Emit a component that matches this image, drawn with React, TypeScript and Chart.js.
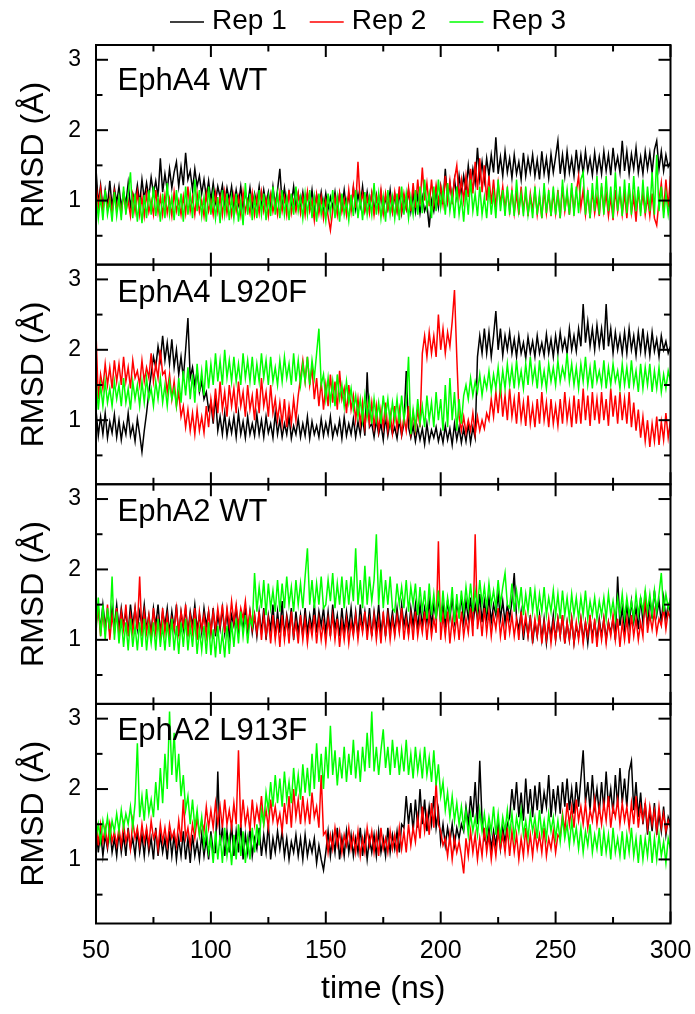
import React, { useEffect, useRef } from "react";
import { Chart, registerables } from "chart.js";

Chart.register(...registerables);

const FONT = "'Liberation Sans', Arial, Helvetica, sans-serif";

// ---- axis / category data ----
const TIME_START = 50; // ns, first sample
const TIME_STEP = 1; // ns between samples
const X_MIN = 50;
const X_MAX = 300;
const X_TICKS = [50, 100, 150, 200, 250, 300];
const X_MINOR = [75, 125, 175, 225, 275];
const Y_MIN = 0.09;
const Y_MAX = 3.21;
const Y_TICKS = [1, 2, 3];
const Y_MINOR = [0.5, 1.5, 2.5];
const PANELS = ["EphA4 WT", "EphA4 L920F", "EphA2 WT", "EphA2 L913F"];
const REPS = ["Rep 1", "Rep 2", "Rep 3"];
const COLORS = ["#000000", "#ff0000", "#00ff00"];

// ---- series values (RMSD, Å), one value per ns from 50 to 300 ns ----
const A4WT_REP1 = [
  1.45, 0.95, 1.22, 0.88, 1.15, 0.92, 1.28, 0.9, 1.18, 0.97,
  1.2, 0.9, 1.12, 0.95, 1.25, 0.92, 1.1, 1.0, 1.22, 0.95,
  1.3, 1.02, 1.25, 1.05, 1.33, 1.1, 1.28, 1.05, 1.6, 1.12,
  1.38, 1.15, 1.45, 1.18, 1.4, 1.55, 1.2, 1.48, 1.22, 1.68,
  1.3, 1.42, 1.15, 1.45, 1.2, 1.35, 1.1, 1.3, 1.05, 1.28,
  1.0, 1.25, 0.98, 1.2, 1.05, 1.22, 0.95, 1.18, 1.0, 1.2,
  0.92, 1.15, 0.95, 1.2, 0.9, 1.12, 0.95, 1.18, 0.9, 1.1,
  0.95, 1.2, 0.9, 1.15, 0.95, 1.12, 0.9, 1.2, 0.93, 1.15,
  1.45, 0.95, 1.18, 0.9, 1.12, 0.95, 1.2, 0.9, 1.1, 0.92,
  1.12, 0.88, 1.1, 0.9, 1.15, 0.86, 1.08, 0.9, 1.12, 0.87,
  1.1, 0.88, 1.05, 0.9, 1.12, 0.86, 1.1, 0.9, 1.15, 0.88,
  1.08, 0.9, 1.18, 0.88, 1.1, 0.92, 1.2, 0.88, 1.12, 0.9,
  1.1, 0.85, 1.08, 0.88, 1.12, 0.84, 1.05, 0.88, 1.15, 0.85,
  1.08, 0.86, 1.12, 0.82, 1.05, 0.88, 1.15, 0.85, 1.1, 0.84,
  1.08, 0.82, 1.05, 0.85, 0.95, 0.62, 1.0, 0.85, 1.1, 0.9,
  1.2, 0.95, 1.45, 1.0, 1.25, 1.02, 1.3, 1.05, 1.35, 1.08,
  1.35, 1.15, 1.5, 1.2, 1.45, 1.25, 1.75, 1.3, 1.55, 1.28,
  1.6, 1.35, 1.65, 1.4, 1.9, 1.38, 1.62, 1.35, 1.7, 1.4,
  1.6, 1.32, 1.65, 1.38, 1.55, 1.3, 1.68, 1.35, 1.6, 1.4,
  1.65, 1.35, 1.58, 1.3, 1.7, 1.38, 1.6, 1.32, 1.66, 1.4,
  1.62, 1.85, 1.38, 1.65, 1.35, 1.7, 1.4, 1.6, 1.35, 1.72,
  1.4, 1.65, 1.38, 1.7, 1.42, 1.6, 1.36, 1.68, 1.4, 1.62,
  1.38, 1.7, 1.42, 1.65, 1.36, 1.75, 1.45, 1.62, 1.4, 1.85,
  1.42, 1.7, 1.38, 1.66, 1.45, 1.75, 1.4, 1.62, 1.38, 1.7,
  1.45, 1.68, 1.4, 1.72, 1.85, 1.45, 1.7, 1.42, 1.65, 1.48,
  1.55,
];
const A4WT_REP2 = [
  1.25, 0.9, 1.18, 0.85, 1.1, 0.88, 1.05, 0.82, 1.12, 0.86,
  1.02, 0.8, 1.1, 0.85, 1.0, 0.78, 1.08, 0.84, 1.12, 0.8,
  1.05, 0.78, 1.1, 0.84, 1.0, 0.8, 1.15, 0.83, 1.05, 0.8,
  1.08, 0.82, 1.02, 0.78, 1.12, 0.85, 1.0, 0.8, 1.06, 0.82,
  1.2, 0.85, 1.05, 0.8, 1.1, 0.84, 1.0, 0.78, 1.1, 0.85,
  1.0, 0.8, 1.1, 0.84, 1.05, 0.8, 1.12, 0.82, 1.02, 0.8,
  1.08, 0.85, 1.05, 0.8, 1.12, 0.84, 1.0, 0.82, 1.1, 0.8,
  1.05, 0.82, 1.12, 0.85, 1.02, 0.78, 1.08, 0.84, 1.0, 0.8,
  1.1, 0.85, 1.05, 0.8, 1.15, 0.82, 1.0, 0.85, 1.1, 0.82,
  1.05, 0.8, 1.12, 0.85, 1.0, 0.72, 1.08, 0.82, 1.05, 0.75,
  1.0, 0.78, 0.58, 0.85, 1.05, 0.8, 1.1, 0.84, 1.02, 0.8,
  1.15, 0.85, 1.2, 0.9, 1.55, 0.95, 1.1, 0.85, 1.05, 0.82,
  1.1, 0.8, 1.05, 0.85, 1.15, 0.82, 1.1, 0.88, 1.05, 0.84,
  1.12, 0.86, 1.2, 0.85, 1.1, 0.9, 1.18, 0.85, 1.25, 0.9,
  1.3, 0.95, 1.47, 1.0, 1.25, 0.92, 1.3, 0.95, 1.22, 0.98,
  1.2, 0.95, 1.35, 1.0, 1.28, 0.95, 1.3, 1.5, 1.05, 1.3,
  1.0, 1.35, 1.05, 1.45, 1.1, 1.55, 1.15, 1.6, 1.12, 1.5,
  1.0, 1.35, 0.95, 1.3, 0.9, 1.25, 0.95, 1.2, 0.88, 1.15,
  0.85, 1.15, 0.82, 1.1, 0.8, 1.2, 0.85, 1.12, 0.78, 1.1,
  0.85, 1.15, 0.8, 1.05, 0.75, 1.15, 0.82, 1.1, 0.78, 1.12,
  0.82, 1.15, 0.75, 1.2, 0.85, 1.1, 0.8, 1.18, 0.85, 1.12,
  1.35, 0.9, 1.15, 0.8, 1.1, 0.75, 1.15, 0.82, 1.05, 0.78,
  1.2, 0.85, 1.1, 0.78, 1.05, 0.72, 1.15, 0.85, 1.12, 0.8,
  1.1, 0.75, 1.2, 0.82, 1.05, 0.7, 1.15, 0.85, 1.1, 0.8,
  1.05, 0.78, 1.1, 0.75, 0.65, 1.0, 1.25, 0.85, 1.3, 0.9,
  1.35,
];
const A4WT_REP3 = [
  1.1, 0.75, 1.05, 0.72, 1.15, 0.8, 1.0, 0.7, 1.12, 0.78,
  1.05, 0.72, 1.2, 0.8, 1.1, 1.4, 0.75, 1.1, 0.7, 1.05,
  0.68, 1.08, 0.75, 1.15, 0.8, 1.2, 0.78, 1.05, 0.7, 1.1,
  0.75, 1.25, 0.8, 1.05, 0.72, 1.15, 0.78, 1.1, 0.7, 1.2,
  0.8, 1.1, 0.75, 1.3, 0.85, 1.15, 0.78, 1.05, 0.7, 1.2,
  0.8, 1.1, 0.75, 1.05, 0.68, 1.15, 0.8, 1.1, 0.72, 1.05,
  0.75, 1.1, 0.7, 1.0, 0.65, 1.25, 0.8, 1.1, 0.72, 1.05,
  0.75, 1.15, 0.8, 1.1, 0.72, 1.05, 0.78, 1.2, 0.8, 1.1,
  0.75, 1.15, 0.8, 1.05, 0.72, 1.1, 0.8, 1.2, 0.85, 1.05,
  0.75, 1.1, 0.8, 1.15, 0.75, 1.05, 0.7, 1.1, 0.8, 1.0,
  0.72, 1.1, 0.8, 1.15, 0.75, 1.05, 0.7, 1.1, 0.8, 1.0,
  0.72, 1.08, 0.78, 1.15, 0.75, 1.05, 0.72, 1.12, 0.8, 1.05,
  0.8, 1.25, 0.8, 1.1, 0.75, 1.05, 0.7, 1.15, 0.8, 1.05,
  0.75, 1.1, 0.72, 1.2, 0.8, 1.1, 0.75, 1.05, 0.8, 1.15,
  0.8, 1.2, 0.82, 1.3, 0.9, 1.1, 0.75, 1.2, 0.85, 1.3,
  0.9, 1.15, 0.8, 1.25, 0.85, 1.1, 0.75, 1.2, 0.8, 1.05,
  0.7, 1.15, 0.8, 1.3, 0.85, 1.1, 0.78, 1.2, 0.8, 1.05,
  0.75, 1.2, 0.8, 1.1, 0.75, 1.3, 0.85, 1.15, 0.78, 1.2,
  0.8, 1.15, 0.78, 1.3, 0.85, 1.1, 0.78, 1.2, 0.8, 1.05,
  0.75, 1.2, 0.8, 1.1, 0.75, 1.25, 0.82, 1.15, 0.78, 1.2,
  0.8, 1.1, 0.75, 1.3, 0.85, 1.15, 0.8, 1.25, 0.78, 1.2,
  0.82, 1.3, 1.4, 0.8, 1.15, 0.75, 1.25, 0.85, 1.35, 0.8,
  1.25, 0.8, 1.35, 0.85, 1.2, 0.75, 1.4, 0.85, 1.2, 0.78,
  1.3, 0.82, 1.25, 0.8, 1.35, 0.85, 1.2, 0.78, 1.3, 0.82,
  1.2, 0.85, 1.4, 0.8, 1.65, 0.85, 1.2, 0.75, 1.1, 0.8,
  1.05,
];

const A4L920F_REP1 = [
  1.15, 0.78, 1.05, 0.8, 1.1, 0.75, 0.98, 0.82, 1.08, 0.76,
  1.0, 0.72, 0.95, 0.8, 1.1, 0.78, 0.92, 0.7, 1.02, 0.8,
  0.55, 0.85, 1.1, 1.4, 1.65, 1.9, 1.75, 2.05, 1.85, 2.2,
  1.85, 2.1, 1.8, 2.15, 1.75, 2.0, 1.65, 1.9, 1.6, 2.0,
  2.45, 1.6, 1.75, 1.5, 1.7, 1.4, 1.55, 1.3, 1.4, 1.15,
  1.25, 0.95, 1.35, 0.85, 1.05, 0.8, 1.1, 0.78, 1.0, 0.82,
  1.05, 0.76, 1.1, 0.8, 0.98, 0.75, 1.05, 0.8, 0.95, 0.78,
  1.08, 0.8, 1.0, 0.76, 1.05, 0.82, 0.95, 0.75, 1.1, 0.8,
  1.0, 0.76, 0.95, 0.8, 1.05, 0.74, 0.92, 0.8, 1.02, 0.76,
  0.95, 0.78, 1.05, 0.74, 0.98, 0.8, 0.92, 0.76, 1.02, 0.78,
  0.96, 0.8, 1.05, 0.76, 0.92, 0.8, 1.0, 0.74, 1.04, 0.78,
  0.95, 0.8, 1.02, 0.76, 0.98, 0.8, 1.05, 0.78, 1.68, 0.9,
  0.95, 0.76, 1.0, 0.8, 0.95, 0.72, 1.05, 0.78, 0.98, 0.8,
  0.9, 0.74, 1.0, 0.78, 0.95, 1.7, 0.9, 0.75, 0.92, 0.7,
  0.9, 0.72, 0.88, 0.66, 0.95, 0.7, 0.86, 0.75, 0.9, 0.7,
  0.85, 0.68, 0.92, 0.72, 0.88, 0.65, 0.95, 0.72, 0.9, 0.68,
  0.88, 0.7, 0.95, 0.68, 0.9, 0.75, 1.9, 2.2, 1.95, 2.3,
  1.95, 2.25, 1.9, 2.2, 2.55, 2.0, 2.3, 1.92, 2.2, 2.0,
  2.25, 1.95, 2.15, 1.9, 2.2, 1.95, 2.1, 1.88, 2.18, 1.95,
  2.12, 1.9, 2.2, 1.95, 2.1, 1.92, 2.22, 1.95, 2.15, 1.9,
  2.2, 1.95, 2.25, 2.0, 2.15, 1.95, 2.3, 2.0, 2.2, 1.98,
  2.3, 2.05, 2.65, 2.1, 2.4, 2.05, 2.3, 2.0, 2.35, 2.05,
  2.3, 2.0, 2.65, 2.05, 2.3, 1.95, 2.25, 2.0, 2.2, 1.95,
  2.25, 1.95, 2.3, 2.0, 2.2, 1.92, 2.25, 1.98, 2.3, 1.95,
  2.2, 1.92, 2.25, 1.98, 2.15, 1.9, 2.2, 2.0, 2.12, 1.95,
  2.05,
];
const A4L920F_REP2 = [
  2.25, 1.3, 1.65, 1.45, 1.8, 1.5, 1.75, 1.45, 1.85, 1.55,
  1.8, 1.5, 1.9, 1.55, 1.75, 1.45, 1.85, 1.6, 1.7, 1.5,
  1.85, 1.55, 1.75, 1.6, 1.95, 1.55, 1.8, 1.6, 2.0, 1.65,
  1.7, 1.4, 1.65, 1.3, 1.55, 1.2, 1.4, 1.05, 1.2, 0.9,
  1.15, 0.85, 1.1, 0.8, 1.15, 0.85, 1.05, 0.82, 1.2, 0.9,
  1.3, 1.05, 1.45, 1.1, 1.55, 1.15, 1.4, 1.05, 1.5, 1.2,
  1.45, 1.1, 1.55, 1.2, 1.4, 1.05, 1.5, 1.15, 1.35, 1.0,
  1.45, 1.1, 1.6, 1.2, 1.4, 1.05, 1.5, 1.1, 1.3, 1.0,
  1.25, 0.95, 1.3, 0.9, 1.2, 0.95, 1.3, 1.0, 1.35, 1.6,
  1.85, 1.55, 1.9, 1.5, 1.75, 1.3, 1.6, 1.2, 1.55, 1.15,
  1.5, 1.2, 1.65, 1.25, 1.55, 1.15, 1.7, 1.3, 1.45, 1.1,
  1.5, 1.15, 1.35, 1.0, 1.3, 0.95, 1.25, 0.9, 1.2, 0.95,
  1.25, 0.9, 1.2, 0.85, 1.15, 0.9, 1.25, 0.85, 1.1, 0.82,
  1.2, 0.88, 1.15, 0.8, 1.05, 0.85, 1.2, 0.82, 1.1, 0.85,
  1.15, 0.9, 1.95, 2.2, 1.9, 2.25, 1.95, 2.2, 1.9, 2.5,
  2.0, 2.3, 1.95, 2.25, 2.05, 2.4, 2.85, 1.9, 1.05, 0.85,
  1.05, 0.82, 1.0, 0.85, 1.1, 0.8, 1.05, 0.85, 1.0, 0.88,
  1.1, 1.0, 1.3, 1.05, 1.4, 1.1, 1.5, 1.05, 1.35, 1.0,
  1.45, 1.05, 1.3, 0.95, 1.4, 1.0, 1.25, 0.92, 1.35, 0.95,
  1.2, 0.9, 1.3, 0.95, 1.4, 1.0, 1.25, 0.9, 1.3, 0.95,
  1.2, 0.92, 1.3, 0.95, 1.4, 1.0, 1.25, 0.9, 1.35, 0.95,
  1.3, 0.95, 1.45, 1.0, 1.35, 0.92, 1.4, 1.0, 1.3, 0.95,
  1.4, 1.0, 1.3, 0.92, 1.45, 1.05, 1.35, 0.95, 1.4, 1.0,
  1.3, 0.95, 1.4, 0.9, 1.25, 0.85, 1.15, 0.75, 1.05, 0.7,
  1.0, 0.62, 0.95, 0.7, 1.05, 0.65, 0.98, 0.72, 1.1, 0.75,
  1.0,
];
const A4L920F_REP3 = [
  1.6, 1.15, 1.5, 1.2, 1.55, 1.25, 1.45, 1.2, 1.55, 1.3,
  1.5, 1.2, 1.6, 1.25, 1.45, 1.15, 1.55, 1.3, 1.5, 1.2,
  1.55, 1.25, 1.6, 1.3, 1.45, 1.2, 1.55, 1.3, 1.6, 1.25,
  1.5, 1.2, 1.55, 1.3, 1.45, 1.2, 1.6, 1.25, 1.7, 1.35,
  1.75, 1.3, 1.65, 1.25, 1.8, 1.4, 1.7, 1.35, 1.85, 1.45,
  1.8, 1.5, 1.95, 1.55, 1.85, 1.5, 2.0, 1.6, 1.85, 1.55,
  1.9, 1.55, 1.8, 1.5, 1.95, 1.6, 1.85, 1.55, 1.9, 1.5,
  1.8, 1.55, 1.95, 1.6, 1.85, 1.5, 1.9, 1.55, 1.75, 1.5,
  1.85, 1.55, 1.9, 1.6, 1.8, 1.5, 1.95, 1.55, 1.85, 1.5,
  1.8, 1.55, 1.9, 1.5, 1.85, 1.6, 1.95, 2.3, 1.5, 1.65,
  1.3, 1.6, 1.25, 1.55, 1.2, 1.65, 1.3, 1.5, 1.2, 1.55,
  1.25, 1.45, 1.15, 1.35, 1.05, 1.3, 1.0, 1.35, 1.05, 1.3,
  0.95, 1.3, 1.0, 1.25, 0.95, 1.35, 1.05, 1.3, 0.95, 1.25,
  1.0, 1.3, 0.95, 1.35, 1.0, 1.25, 1.9, 0.8, 1.15, 0.9,
  1.3, 0.95, 1.2, 0.9, 1.35, 1.0, 1.25, 0.9, 1.4, 1.0,
  1.3, 0.85, 1.5, 0.9, 1.6, 1.0, 1.4, 0.85, 1.3, 0.95,
  1.35, 1.5, 1.3, 1.6, 1.35, 1.55, 1.4, 1.65, 1.35, 1.6,
  1.45, 1.7, 1.4, 1.65, 1.45, 1.75, 1.4, 1.7, 1.45, 1.8,
  1.5, 1.75, 1.45, 1.85, 1.5, 1.7, 1.45, 1.8, 1.5, 1.9,
  1.55, 1.75, 1.45, 1.85, 1.5, 1.7, 1.45, 1.8, 1.55, 1.75,
  1.5, 1.85, 1.55, 1.75, 1.6, 1.95, 1.55, 1.8, 1.5, 1.75,
  1.45, 1.8, 1.55, 1.9, 1.5, 1.75, 1.45, 1.85, 1.55, 1.7,
  1.5, 1.85, 1.45, 1.75, 1.5, 1.8, 1.55, 1.7, 1.45, 1.8,
  1.5, 1.75, 1.45, 1.85, 1.5, 1.7, 1.4, 1.8, 1.45, 1.75,
  1.5, 1.8, 1.4, 1.7, 1.45, 1.75, 1.4, 1.65, 1.45, 1.7,
  1.55,
];

const A2WT_REP1 = [
  1.25, 1.45, 1.15, 1.5, 1.2, 1.4, 1.1, 1.45, 1.2, 1.5,
  1.15, 1.45, 1.2, 1.4, 1.1, 1.5, 1.2, 1.45, 1.15, 1.4,
  1.2, 1.5, 1.15, 1.35, 1.1, 1.45, 1.2, 1.5, 1.1, 1.4,
  1.2, 1.45, 1.1, 1.4, 1.15, 1.5, 1.05, 1.4, 1.15, 1.45,
  1.1, 1.4, 1.2, 1.5, 1.15, 1.35, 1.1, 1.45, 1.2, 1.4,
  1.1, 1.45, 1.05, 1.35, 1.15, 1.45, 1.1, 1.4, 1.05, 1.35,
  1.2, 1.45, 1.1, 1.35, 1.15, 1.45, 1.05, 1.4, 1.1, 1.35,
  1.05, 1.4, 1.1, 1.45, 1.0, 1.35, 1.15, 1.5, 1.05, 1.4,
  1.1, 1.55, 1.05, 1.35, 1.15, 1.45, 1.0, 1.4, 1.1, 1.35,
  1.05, 1.45, 1.1, 1.35, 1.15, 1.5, 1.1, 1.4, 1.2, 1.45,
  1.1, 1.4, 1.05, 1.5, 1.15, 1.35, 1.05, 1.45, 1.1, 1.4,
  1.15, 1.45, 1.1, 1.4, 1.05, 1.5, 1.15, 1.4, 1.1, 1.45,
  1.05, 1.4, 1.15, 1.5, 1.1, 1.35, 1.05, 1.45, 1.15, 1.4,
  1.1, 1.45, 1.15, 1.5, 1.2, 1.4, 1.1, 1.45, 1.2, 1.5,
  1.15, 1.5, 1.2, 1.45, 1.25, 1.55, 1.2, 1.5, 1.3, 1.6,
  1.25, 1.5, 1.2, 1.55, 1.3, 1.6, 1.25, 1.5, 1.35, 1.6,
  1.25, 1.55, 1.3, 1.6, 1.2, 1.5, 1.3, 1.65, 1.25, 1.55,
  1.3, 1.6, 1.25, 1.5, 1.35, 1.65, 1.3, 1.55, 1.25, 1.5,
  1.3, 1.55, 1.95, 1.3, 1.15, 1.4, 1.0, 1.3, 1.05, 1.35,
  0.95, 1.25, 1.05, 1.35, 1.0, 1.3, 0.95, 1.25, 1.05, 1.35,
  1.0, 1.3, 1.05, 1.35, 0.95, 1.25, 1.0, 1.3, 0.95, 1.2,
  1.05, 1.3, 1.0, 1.25, 0.95, 1.3, 1.05, 1.25, 1.0, 1.3,
  1.05, 1.3, 1.0, 1.25, 1.1, 1.3, 1.0, 1.9, 1.2, 1.45,
  1.15, 1.5, 1.2, 1.55, 1.25, 1.45, 1.15, 1.6, 1.25, 1.5,
  1.2, 1.6, 1.3, 1.7, 1.35, 1.55, 1.25, 1.6, 1.3, 1.5,
  1.4,
];
const A2WT_REP2 = [
  1.2, 1.45, 1.05, 1.4, 1.1, 1.5, 1.0, 1.35, 1.1, 1.45,
  1.05, 1.4, 1.15, 1.5, 1.05, 1.35, 1.1, 1.45, 1.15, 1.9,
  1.05, 1.4, 1.1, 1.35, 1.0, 1.45, 1.1, 1.3, 1.05, 1.45,
  1.1, 1.35, 1.05, 1.3, 1.15, 1.45, 1.1, 1.4, 1.2, 1.5,
  1.05, 1.35, 1.1, 1.45, 1.0, 1.4, 1.15, 1.35, 1.05, 1.4,
  1.1, 1.4, 1.15, 1.45, 1.2, 1.5, 1.1, 1.45, 1.2, 1.55,
  1.25, 1.5, 1.2, 1.45, 1.3, 1.55, 1.2, 1.4, 1.15, 1.35,
  1.1, 1.4, 1.0, 1.35, 1.05, 1.3, 0.95, 1.35, 1.0, 1.3,
  0.9, 1.35, 1.0, 1.3, 0.95, 1.4, 1.05, 1.25, 0.95, 1.35,
  1.0, 1.3, 0.95, 1.25, 1.05, 1.35, 0.95, 1.3, 1.0, 1.25,
  0.95, 1.3, 1.05, 1.35, 1.0, 1.3, 0.9, 1.25, 1.0, 1.3,
  0.95, 1.25, 1.05, 1.35, 1.0, 1.3, 1.1, 1.4, 1.0, 1.3,
  1.05, 1.35, 1.0, 1.3, 0.95, 1.4, 1.05, 1.35, 1.0, 1.3,
  1.05, 1.35, 1.1, 1.45, 1.0, 1.3, 1.05, 1.35, 1.0, 1.4,
  1.05, 1.3, 1.1, 1.4, 1.0, 1.35, 1.05, 1.3, 1.1, 2.4,
  1.0, 1.35, 1.05, 1.4, 0.95, 1.3, 1.05, 1.35, 1.0, 1.4,
  1.05, 1.3, 1.1, 1.45, 1.05, 2.5, 1.15, 1.4, 1.05, 1.45,
  1.1, 1.4, 1.05, 1.35, 1.15, 1.45, 1.05, 1.3, 1.0, 1.4,
  1.1, 1.35, 1.05, 1.3, 1.0, 1.4, 1.1, 1.35, 1.05, 1.3,
  1.0, 1.3, 1.05, 1.35, 0.95, 1.25, 1.0, 1.3, 0.95, 1.25,
  1.0, 1.3, 1.05, 1.35, 0.95, 1.25, 1.0, 1.3, 0.95, 1.25,
  1.0, 1.3, 0.95, 1.25, 1.05, 1.35, 0.95, 1.3, 0.9, 1.25,
  1.0, 1.3, 0.95, 1.25, 1.05, 1.35, 1.0, 1.3, 0.9, 1.25,
  1.0, 1.3, 0.95, 1.35, 1.05, 1.3, 1.0, 1.25, 1.05, 1.7,
  1.1, 1.35, 1.15, 1.4, 1.1, 1.3, 1.2, 1.45, 1.15, 1.4,
  1.3,
];
const A2WT_REP3 = [
  1.1, 1.6, 1.05, 1.5, 1.0, 1.45, 1.15, 1.9, 1.0, 1.4,
  0.95, 1.3, 0.9, 1.25, 0.85, 1.3, 0.9, 1.2, 0.85, 1.25,
  0.9, 1.3, 0.85, 1.2, 0.95, 1.25, 0.85, 1.3, 0.9, 1.2,
  0.85, 1.25, 0.9, 1.3, 0.85, 1.2, 0.8, 1.25, 0.9, 1.3,
  0.85, 1.2, 0.9, 1.3, 0.8, 1.15, 0.85, 1.2, 0.8, 1.25,
  0.78, 1.15, 0.75, 1.2, 0.8, 1.1, 0.75, 1.2, 0.8, 1.25,
  0.9, 1.3, 0.95, 1.4, 1.05, 1.35, 0.95, 1.3, 1.2, 1.95,
  1.4, 1.75, 1.45, 1.85, 1.35, 1.8, 1.45, 1.7, 1.4, 1.85,
  1.4, 1.8, 1.45, 1.9, 1.5, 1.75, 1.4, 1.85, 1.5, 1.8,
  1.45, 1.9, 2.3, 1.5, 1.85, 1.45, 1.8, 1.5, 1.9, 1.45,
  1.5, 1.85, 1.55, 1.95, 1.45, 1.8, 1.5, 1.9, 1.45, 1.85,
  1.5, 1.9, 1.55, 2.3, 1.5, 1.85, 1.45, 2.05, 1.5, 1.9,
  1.55, 1.85, 2.5, 1.5, 2.0, 1.45, 1.85, 1.5, 1.9, 1.45,
  1.4, 1.8, 1.5, 1.75, 1.45, 1.85, 1.4, 1.75, 1.5, 1.8,
  1.35, 1.75, 1.4, 1.7, 1.3, 1.8, 1.35, 1.65, 1.3, 1.7,
  1.25, 1.7, 1.3, 1.6, 1.35, 1.75, 1.25, 1.65, 1.3, 1.7,
  1.4, 1.75, 1.45, 1.8, 1.4, 1.7, 1.45, 1.85, 1.5, 1.75,
  1.45, 1.8, 1.5, 1.7, 1.45, 1.85, 1.5, 1.75, 1.95, 1.5,
  1.45, 1.8, 1.4, 1.7, 1.45, 1.75, 1.35, 1.65, 1.4, 1.75,
  1.4, 1.7, 1.35, 1.65, 1.4, 1.75, 1.35, 1.6, 1.4, 1.7,
  1.35, 1.65, 1.3, 1.7, 1.35, 1.6, 1.3, 1.65, 1.35, 1.6,
  1.3, 1.6, 1.35, 1.7, 1.3, 1.55, 1.35, 1.6, 1.3, 1.55,
  1.35, 1.6, 1.3, 1.65, 1.35, 1.55, 1.3, 1.6, 1.35, 1.65,
  1.3, 1.6, 1.35, 1.55, 1.3, 1.65, 1.35, 1.6, 1.4, 1.7,
  1.4, 1.65, 1.35, 1.7, 1.4, 1.65, 1.95, 1.4, 1.65, 1.45,
  1.6,
];

const A2L913F_REP1 = [
  1.5, 1.1, 1.4, 1.05, 1.35, 1.15, 1.45, 1.1, 1.3, 1.05,
  1.4, 1.1, 1.35, 1.05, 1.45, 1.15, 1.3, 1.05, 1.4, 1.1,
  1.35, 1.05, 1.4, 1.1, 1.3, 1.0, 1.45, 1.05, 1.35, 1.1,
  1.3, 1.0, 1.4, 1.05, 1.35, 1.0, 1.3, 1.05, 1.4, 1.0,
  1.3, 0.95, 1.35, 1.05, 1.25, 1.0, 1.35, 1.05, 1.3, 1.0,
  1.4, 1.1, 1.1, 2.25, 1.2, 1.45, 1.05, 1.4, 1.1, 1.5,
  1.05, 1.4, 1.1, 1.5, 1.0, 1.35, 1.1, 1.45, 1.05, 1.3,
  1.15, 1.45, 1.05, 1.35, 1.1, 1.5, 1.0, 1.3, 1.1, 1.4,
  1.15, 1.4, 1.05, 1.3, 1.0, 1.25, 1.1, 1.35, 1.05, 1.3,
  1.0, 1.35, 1.05, 1.25, 1.1, 1.3, 0.95, 1.2, 1.0, 0.85,
  1.1, 1.4, 1.05, 1.35, 1.1, 1.45, 1.0, 1.3, 1.05, 1.4,
  1.1, 1.35, 1.05, 1.3, 1.1, 1.45, 1.05, 1.35, 1.0, 1.3,
  1.1, 1.35, 1.05, 1.4, 1.1, 1.3, 1.05, 1.45, 1.1, 1.35,
  1.15, 1.4, 1.1, 1.5, 1.45, 1.9, 1.5, 1.8, 1.4, 1.85,
  1.45, 2.0, 1.5, 1.85, 1.4, 1.75, 1.5, 1.9, 1.45, 1.7,
  1.25, 1.5, 1.2, 1.45, 1.25, 1.5, 1.2, 1.45, 1.3, 1.5,
  1.4, 1.75, 1.5, 1.9, 1.6, 2.1, 1.5, 2.4, 1.55, 1.3,
  1.2, 1.45, 1.15, 1.4, 1.2, 1.5, 1.15, 1.45, 1.25, 1.5,
  1.6, 2.0, 1.7, 2.1, 1.6, 1.95, 1.55, 2.15, 1.65, 2.0,
  1.6, 2.05, 1.7, 2.1, 1.65, 1.95, 1.75, 2.2, 1.6, 2.0,
  1.7, 2.05, 1.65, 2.1, 1.75, 2.15, 1.7, 2.0, 1.65, 2.1,
  1.75, 2.15, 2.55, 1.8, 2.1, 1.7, 2.2, 1.75, 2.0, 1.65,
  2.1, 1.7, 2.25, 1.75, 2.0, 1.65, 2.2, 1.75, 2.3, 1.8,
  2.15, 1.75, 2.25, 2.4, 1.7, 2.1, 1.6, 1.95, 1.5, 1.8,
  1.35, 1.7, 1.4, 1.8, 1.35, 1.65, 1.4, 1.75, 1.35, 1.6,
  1.5,
];
const A2L913F_REP2 = [
  1.6, 1.2, 1.5, 1.25, 1.45, 1.2, 1.5, 1.25, 1.4, 1.2,
  1.45, 1.2, 1.5, 1.25, 1.4, 1.15, 1.55, 1.3, 1.45, 1.2,
  1.5, 1.25, 1.45, 1.2, 1.55, 1.3, 1.4, 1.15, 1.5, 1.25,
  1.45, 1.2, 1.5, 1.3, 1.4, 1.2, 1.55, 1.25, 1.85, 1.3,
  1.45, 1.2, 1.5, 1.3, 1.6, 1.35, 1.55, 1.4, 1.75, 1.45,
  1.7, 1.45, 1.8, 1.5, 1.75, 1.45, 1.85, 1.5, 1.7, 1.45,
  1.8, 1.5, 2.55, 1.45, 1.85, 1.5, 1.7, 1.4, 1.85, 1.5,
  1.75, 1.55, 1.9, 1.5, 1.7, 1.45, 1.85, 1.55, 1.75, 1.5,
  1.65, 1.4, 1.8, 1.5, 1.9, 1.45, 2.0, 1.6, 1.85, 1.5,
  1.9, 1.55, 1.8, 1.5, 1.95, 1.6, 1.75, 1.45, 2.2, 1.35,
  1.4, 1.1, 1.35, 1.15, 1.45, 1.2, 1.4, 1.1, 1.35, 1.2,
  1.45, 1.15, 1.35, 1.1, 1.4, 1.05, 1.3, 1.1, 1.45, 1.2,
  1.4, 1.1, 1.35, 1.05, 1.45, 1.15, 1.3, 1.1, 1.4, 1.15,
  1.35, 1.1, 1.45, 1.15, 1.4, 1.1, 1.5, 1.2, 1.45, 1.25,
  1.6, 1.3, 1.75, 1.4, 1.65, 1.35, 1.8, 1.45, 2.1, 1.5,
  1.4, 1.2, 1.3, 1.05, 1.35, 1.0, 1.3, 1.1, 1.25, 1.05,
  0.8, 1.3, 1.05, 1.4, 1.1, 1.35, 1.0, 1.3, 1.05, 1.45,
  1.1, 1.35, 1.0, 1.3, 1.05, 1.4, 1.15, 1.35, 1.1, 1.45,
  1.05, 1.4, 1.1, 1.35, 1.0, 1.3, 1.05, 1.45, 1.1, 1.35,
  1.05, 1.4, 1.15, 1.35, 1.1, 1.45, 1.05, 1.3, 1.15, 1.4,
  1.1, 1.35, 1.3, 1.65, 1.4, 1.8, 1.5, 1.75, 1.45, 1.85,
  1.55, 1.75, 1.5, 1.8, 1.45, 1.7, 1.55, 1.85, 1.5, 1.75,
  1.5, 1.8, 1.55, 1.9, 1.45, 1.75, 1.6, 1.85, 1.5, 1.8,
  1.55, 1.75, 1.45, 1.8, 1.5, 1.9, 1.45, 1.75, 1.55, 1.8,
  1.45, 1.75, 1.5, 1.7, 1.4, 1.75, 1.45, 1.65, 1.4, 1.55,
  1.45,
];
const A2L913F_REP3 = [
  1.3, 1.5, 1.25, 1.55, 1.35, 1.6, 1.3, 1.55, 1.4, 1.65,
  1.4, 1.7, 1.45, 1.65, 1.5, 1.75, 1.45, 1.8, 2.65, 1.6,
  1.9, 1.55, 2.0, 1.65, 1.85, 1.6, 2.1, 1.7, 2.3, 1.8,
  2.5, 2.0, 3.1, 2.2, 2.8, 2.1, 2.5, 1.9, 2.2, 1.7,
  1.9, 1.5, 1.85, 1.45, 1.7, 1.35, 1.6, 1.2, 1.45, 1.1,
  1.3, 0.95, 1.4, 1.0, 1.35, 0.95, 1.45, 1.05, 1.3, 0.92,
  1.35, 1.0, 1.5, 1.05, 1.4, 0.95, 1.3, 1.0, 1.45, 1.1,
  1.5, 1.2, 1.7, 1.5, 1.95, 1.7, 2.1, 1.75, 2.2, 1.8,
  2.15, 1.75, 2.25, 1.85, 2.1, 1.8, 2.3, 1.9, 2.2, 1.85,
  2.35, 1.95, 2.3, 1.9, 2.5, 2.0, 2.65, 2.1, 2.5, 2.0,
  2.6, 2.15, 2.9, 2.2, 2.55, 2.05, 2.45, 2.15, 2.6, 2.1,
  2.5, 2.2, 2.7, 2.15, 2.55, 2.1, 2.6, 2.25, 2.8, 2.3,
  3.1, 2.25, 2.6, 2.2, 2.55, 2.85, 2.3, 2.6, 2.2, 2.7,
  2.3, 2.6, 2.2, 2.55, 2.25, 2.7, 2.2, 2.5, 2.15, 2.6,
  2.25, 2.5, 2.15, 2.6, 2.2, 2.45, 2.1, 2.55, 2.05, 2.35,
  1.9, 2.1, 1.7, 1.95, 1.6, 1.9, 1.55, 1.8, 1.5, 1.75,
  1.45, 1.7, 1.35, 1.65, 1.4, 1.6, 1.35, 1.7, 1.4, 1.65,
  1.35, 1.6, 1.4, 1.75, 1.35, 1.65, 1.3, 1.6, 1.4, 1.7,
  1.35, 1.65, 1.3, 1.6, 1.4, 1.7, 1.35, 1.55, 1.3, 1.65,
  1.4, 1.6, 1.3, 1.7, 1.35, 1.55, 1.3, 1.65, 1.4, 1.6,
  1.3, 1.55, 1.25, 1.6, 1.3, 1.5, 1.2, 1.55, 1.25, 1.45,
  1.15, 1.45, 1.1, 1.4, 1.2, 1.5, 1.1, 1.35, 1.15, 1.45,
  1.05, 1.4, 1.1, 1.35, 1.0, 1.45, 1.1, 1.3, 1.05, 1.4,
  1.0, 1.35, 1.1, 1.45, 1.05, 1.3, 0.95, 1.35, 1.0, 1.3,
  1.05, 1.4, 0.95, 1.3, 1.0, 1.35, 1.05, 1.25, 0.95, 1.3,
  1.15,
];

const SERIES = [
  [A4WT_REP1, A4WT_REP2, A4WT_REP3],
  [A4L920F_REP1, A4L920F_REP2, A4L920F_REP3],
  [A2WT_REP1, A2WT_REP2, A2WT_REP3],
  [A2L913F_REP1, A2L913F_REP2, A2L913F_REP3],
];

// ---- layout (pixels) ----
const W = 695;
const H = 1014;
const PLOT_LEFT = 96;
const PLOT_RIGHT = 670.5;
const PLOT_TOP = 45;
const PLOT_BOTTOM = 923.5;
const LABEL_BASELINE = [45, 37, 37, 36];
const MAJOR_LEN = 12;
const MINOR_LEN = 6.5;

const framePlugin = {
  id: "panelFrames",
  afterDraw(chart: any) {
    const ctx = chart.ctx as CanvasRenderingContext2D;
    const xs = chart.scales.x;
    const { left, right } = chart.chartArea;
    ctx.save();
    ctx.strokeStyle = "#000";
    ctx.fillStyle = "#000";
    ctx.lineWidth = 2;
    const seg = (x1: number, y1: number, x2: number, y2: number) => {
      ctx.beginPath();
      ctx.moveTo(x1, y1);
      ctx.lineTo(x2, y2);
      ctx.stroke();
    };
    PANELS.forEach((name, p) => {
      const ys = chart.scales["y" + p];
      const top = ys.top;
      const bottom = ys.bottom;
      ctx.strokeStyle = "#000";
      ctx.lineWidth = 2;
      ctx.strokeRect(left, top, right - left, bottom - top);
      X_TICKS.forEach((v) => {
        const px = xs.getPixelForValue(v);
        seg(px, bottom, px, bottom - MAJOR_LEN);
        seg(px, top, px, top + MAJOR_LEN);
      });
      X_MINOR.forEach((v) => {
        const px = xs.getPixelForValue(v);
        seg(px, bottom, px, bottom - MINOR_LEN);
        seg(px, top, px, top + MINOR_LEN);
      });
      Y_TICKS.forEach((v) => {
        const py = ys.getPixelForValue(v);
        seg(left, py, left + MAJOR_LEN, py);
        seg(right, py, right - MAJOR_LEN, py);
      });
      Y_MINOR.forEach((v) => {
        const py = ys.getPixelForValue(v);
        seg(left, py, left + MINOR_LEN, py);
        seg(right, py, right - MINOR_LEN, py);
      });
      ctx.font = `31px ${FONT}`;
      ctx.textAlign = "left";
      ctx.textBaseline = "alphabetic";
      ctx.fillStyle = "#000";
      ctx.fillText(name, left + 21.5, top + LABEL_BASELINE[p]);
    });
    // legend
    ctx.font = `28px ${FONT}`;
    ctx.textBaseline = "middle";
    let x = 170;
    const ly = 21;
    REPS.forEach((lab, r) => {
      ctx.strokeStyle = COLORS[r];
      ctx.lineWidth = 1.5;
      seg(x, ly + 1, x + 34, ly + 1);
      x += 34 + 8;
      ctx.fillStyle = "#000";
      ctx.fillText(lab, x, ly);
      x += ctx.measureText(lab).width + 23;
    });
    ctx.restore();
  },
};

export default function App() {
  const ref = useRef<HTMLCanvasElement | null>(null);
  useEffect(() => {
    if (!ref.current) return;
    const datasets: any[] = [];
    SERIES.forEach((reps, p) => {
      reps.forEach((vals, r) => {
        datasets.push({
          label: REPS[r],
          data: vals.map((v, i) => ({ x: TIME_START + i * TIME_STEP, y: v })),
          borderColor: COLORS[r],
          backgroundColor: COLORS[r],
          borderWidth: 1.5,
          pointRadius: 0,
          tension: 0,
          fill: false,
          yAxisID: "y" + p,
          order: 3 - r,
        });
      });
    });
    const scales: any = {
      x: {
        type: "linear",
        position: "bottom",
        min: X_MIN,
        max: X_MAX,
        afterBuildTicks: (s: any) => {
          s.ticks = X_TICKS.map((v) => ({ value: v }));
        },
        afterFit: (s: any) => {
          s.height = H - PLOT_BOTTOM;
          s.paddingLeft = 0;
          s.paddingRight = 0;
        },
        grid: { display: false, drawTicks: false },
        border: { display: false },
        ticks: {
          autoSkip: false,
          maxRotation: 0,
          color: "#000",
          padding: 13,
          font: { family: FONT, size: 25 },
        },
        title: {
          display: true,
          text: "time (ns)",
          color: "#000",
          font: { family: FONT, size: 32 },
          padding: { top: 0, bottom: 6 },
        },
      },
    };
    // stacked left scales are laid out last-declared-first, so declare bottom panel first
    for (let p = PANELS.length - 1; p >= 0; p--) {
      scales["y" + p] = {
        type: "linear",
        position: "left",
        stack: "rmsd",
        stackWeight: 1,
        min: Y_MIN,
        max: Y_MAX,
        afterBuildTicks: (s: any) => {
          s.ticks = Y_TICKS.map((v) => ({ value: v }));
        },
        afterFit: (s: any) => {
          s.width = PLOT_LEFT;
          s.paddingTop = 0;
          s.paddingBottom = 0;
        },
        grid: { display: false, drawTicks: false },
        border: { display: false },
        ticks: {
          autoSkip: false,
          color: "#000",
          padding: 15,
          font: { family: FONT, size: 23 },
        },
        title: {
          display: true,
          text: "RMSD (Å)",
          color: "#000",
          font: { family: FONT, size: 32 },
          padding: { top: 15, bottom: 0 },
        },
      };
    }
    const chart = new Chart(ref.current, {
      type: "line",
      data: { datasets },
      options: {
        animation: false,
        responsive: false,
        devicePixelRatio: 1,
        layout: {
          padding: { left: 0, right: W - PLOT_RIGHT, top: PLOT_TOP, bottom: 0 },
        },
        plugins: {
          legend: { display: false },
          title: { display: false },
          tooltip: { enabled: false },
        },
        scales,
      },
      plugins: [framePlugin],
    });
    return () => chart.destroy();
  }, []);
  return (
    <div style={{ position: "absolute", left: 0, top: 0, width: W, height: H, background: "#fff" }}>
      <canvas ref={ref} width={W} height={H} style={{ width: W, height: H, display: "block" }} />
    </div>
  );
}
